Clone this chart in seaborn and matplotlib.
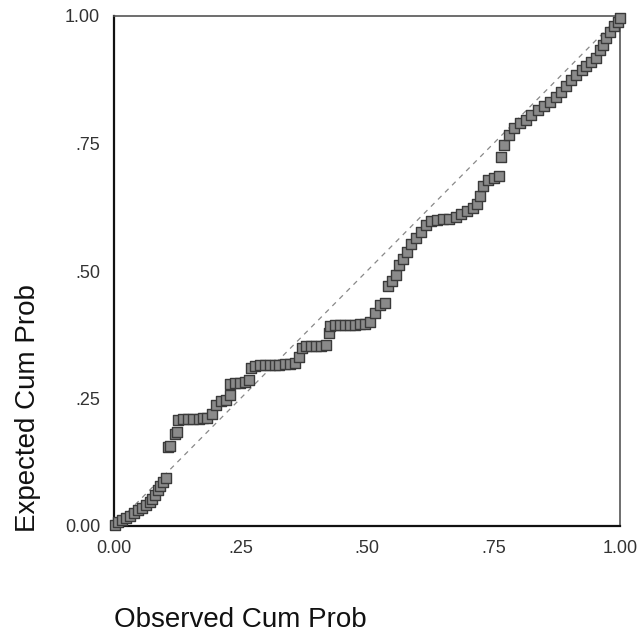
import matplotlib
matplotlib.use("Agg")
import matplotlib.pyplot as plt
import seaborn as sns
import pandas as pd

# Observed cumulative probability (x) and expected cumulative probability (y)
observed = [0.002, 0.008, 0.016, 0.024, 0.031, 0.039, 0.047, 0.055, 0.063, 0.071,
            0.076, 0.082, 0.086, 0.090, 0.096, 0.102,
            0.106, 0.110, 0.120, 0.124,
            0.127, 0.137, 0.147, 0.157, 0.167, 0.176, 0.184,
            0.194, 0.202, 0.212, 0.222, 0.229, 0.229, 0.239, 0.249, 0.259, 0.267,
            0.271, 0.278, 0.288, 0.298, 0.308, 0.318, 0.327, 0.337, 0.347, 0.357,
            0.365, 0.371, 0.380, 0.390, 0.400, 0.410, 0.418,
            0.424, 0.427, 0.437, 0.447, 0.457, 0.467, 0.476, 0.486, 0.496, 0.506,
            0.516, 0.525, 0.535, 0.541, 0.549, 0.557, 0.563, 0.571, 0.580, 0.586,
            0.596, 0.606, 0.616, 0.627, 0.639, 0.651, 0.663, 0.675, 0.686, 0.698,
            0.710, 0.718, 0.724, 0.729, 0.739, 0.751, 0.761,
            0.765, 0.771, 0.780, 0.790, 0.802, 0.814, 0.825, 0.837, 0.849, 0.861,
            0.873, 0.884, 0.894, 0.904, 0.914, 0.924, 0.933, 0.943, 0.953, 0.961,
            0.967, 0.973, 0.980, 0.988, 0.996, 1.000]
expected = [0.002, 0.008, 0.012, 0.016, 0.020, 0.025, 0.031, 0.035, 0.041, 0.047,
            0.053, 0.061, 0.071, 0.078, 0.086, 0.094,
            0.155, 0.157, 0.180, 0.184,
            0.208, 0.210, 0.210, 0.210, 0.210, 0.212, 0.212,
            0.220, 0.237, 0.245, 0.247, 0.257, 0.278, 0.280, 0.280, 0.282, 0.286,
            0.310, 0.314, 0.316, 0.316, 0.316, 0.316, 0.316, 0.318, 0.318, 0.320,
            0.331, 0.349, 0.353, 0.353, 0.353, 0.353, 0.355,
            0.378, 0.392, 0.394, 0.394, 0.394, 0.394, 0.394, 0.396, 0.396, 0.400,
            0.418, 0.433, 0.437, 0.471, 0.480, 0.492, 0.512, 0.524, 0.537, 0.553,
            0.565, 0.576, 0.590, 0.598, 0.600, 0.602, 0.602, 0.606, 0.612, 0.618,
            0.624, 0.631, 0.647, 0.667, 0.678, 0.682, 0.686,
            0.724, 0.747, 0.767, 0.780, 0.790, 0.796, 0.806, 0.816, 0.824, 0.831,
            0.841, 0.851, 0.863, 0.875, 0.884, 0.894, 0.902, 0.910, 0.918, 0.933,
            0.943, 0.957, 0.969, 0.980, 0.988, 0.996]

ref_line = [0.0, 1.0]
tick_values = [0.0, 0.25, 0.5, 0.75, 1.0]
tick_labels = ["0.00", ".25", ".50", ".75", "1.00"]

sns.set_style("white")
plt.rcParams["font.family"] = ["Liberation Sans", "DejaVu Sans"]

df = pd.DataFrame({"Observed Cum Prob": observed, "Expected Cum Prob": expected})

fig = plt.figure(figsize=(6.37, 6.39), dpi=100)
ax = fig.add_axes([114 / 637, 1 - 526 / 639, 506 / 637, 510 / 639])

sns.lineplot(x=ref_line, y=ref_line, ax=ax, color="#888888", lw=0.9,
             linestyle=(0, (4, 4)), zorder=1)
sns.scatterplot(data=df, x="Observed Cum Prob", y="Expected Cum Prob", ax=ax,
                marker="s", s=46, color="#8a8a8a", edgecolor="#3a3a3a",
                linewidth=1.0, zorder=3, clip_on=False)

ax.set_xlim(0, 1)
ax.set_ylim(0, 1)
ax.set_xticks(tick_values)
ax.set_xticklabels(tick_labels)
ax.set_yticks(tick_values)
ax.set_yticklabels(tick_labels)
ax.tick_params(axis="both", direction="out", length=4, width=2.5,
               color="#111111", labelsize=13, labelcolor="#333333", pad=6)

for side in ["left", "bottom"]:
    ax.spines[side].set_color("#111111")
    ax.spines[side].set_linewidth(1.6)
for side in ["top", "right"]:
    ax.spines[side].set_color("#555555")
    ax.spines[side].set_linewidth(1.2)

ax.set_xlabel("Observed Cum Prob", fontsize=20, color="#111111")
ax.xaxis.label.set_va("center")
ax.xaxis.set_label_coords(0.25, -0.184)
ax.set_ylabel("Expected Cum Prob", fontsize=20, color="#111111")
ax.yaxis.label.set_va("center")
ax.yaxis.set_label_coords(-0.17, 0.231)

fig.savefig("out.png", dpi=100, facecolor="white")
